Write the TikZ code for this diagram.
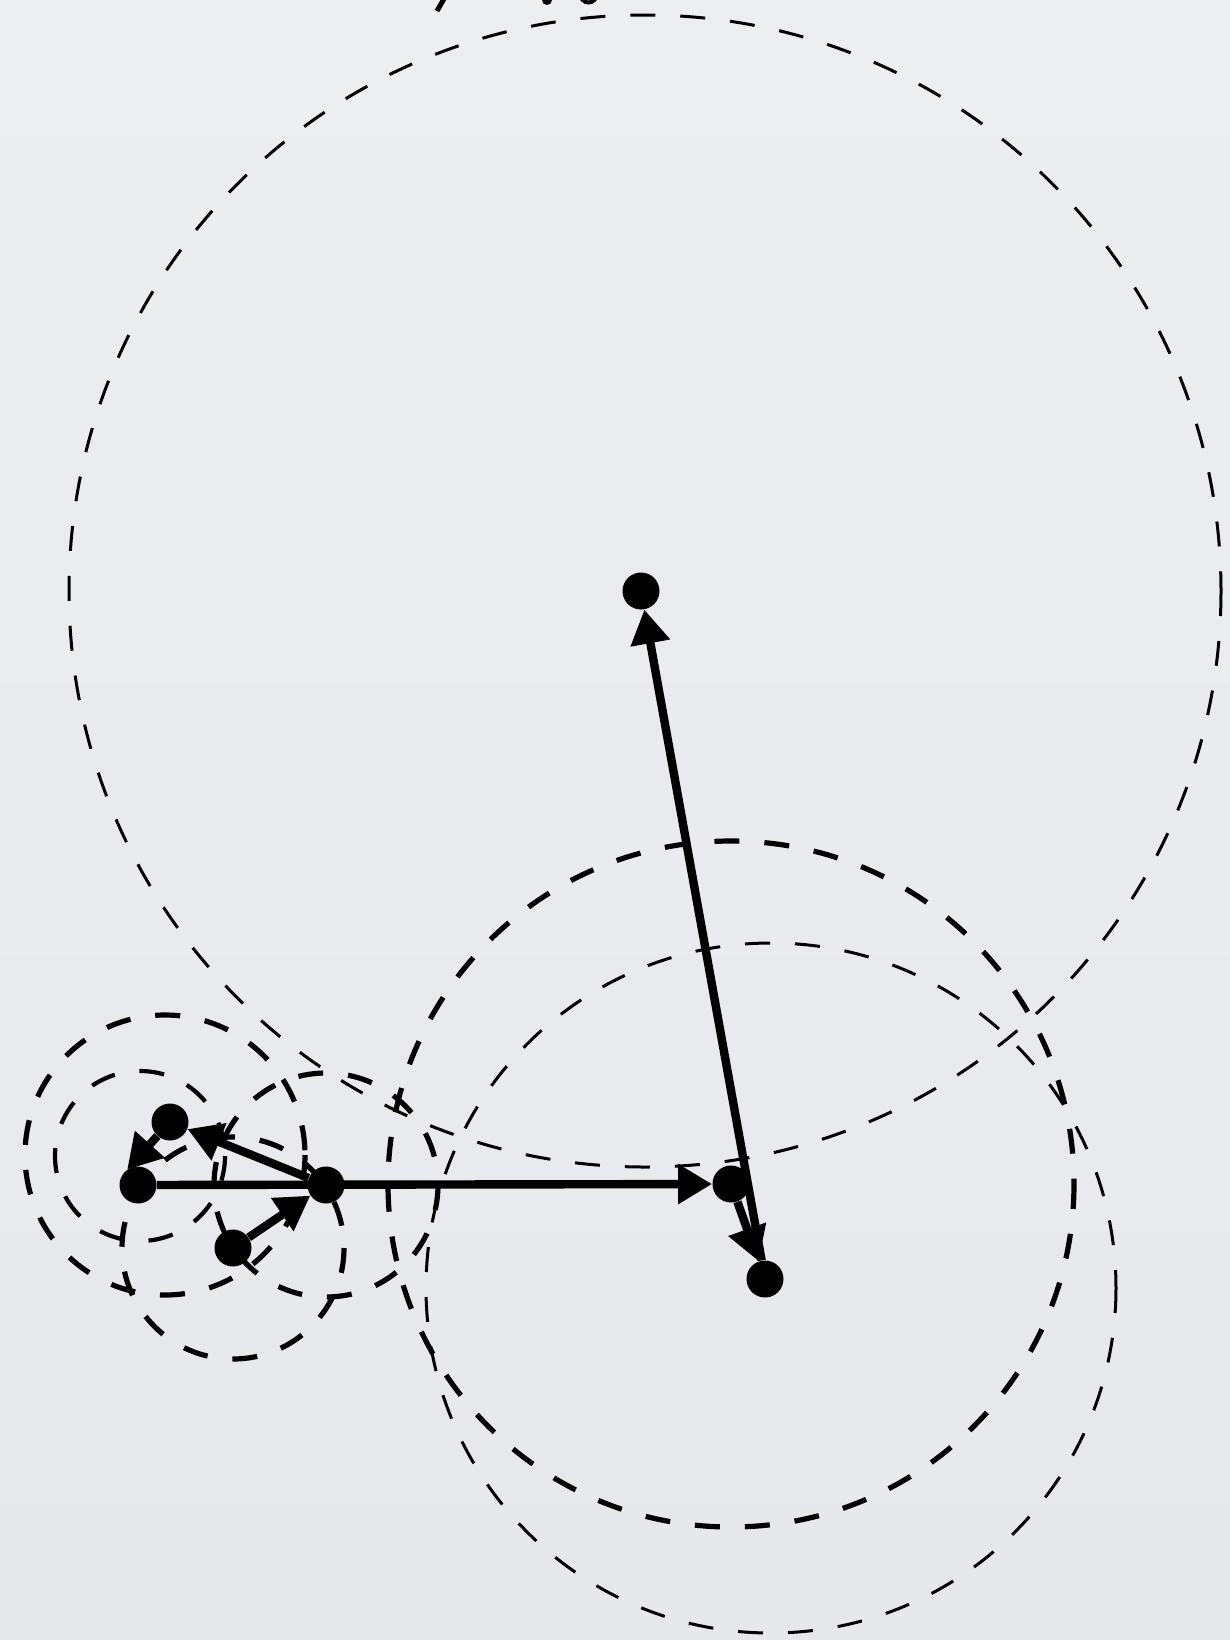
\documentclass[tikz,border=0pt]{standalone}
\usetikzlibrary{arrows.meta}
\definecolor{bgtop}{RGB}{237,238,240}
\definecolor{bgbot}{RGB}{230,232,236}
\begin{document}
\begin{tikzpicture}[x=0.5pt,y=-0.5pt,
  dot/.style={circle,fill=black,inner sep=0pt,minimum size=18.5pt},
  vec/.style={line width=4.2pt,-{Triangle[length=17pt,width=19pt]}},
  thinc/.style={dash pattern=on 12.5pt off 12.5pt,line width=1.5pt},
  midc/.style={dash pattern=on 12.5pt off 12.5pt,line width=2.1pt},
  thickc/.style={dash pattern=on 12.5pt off 12.5pt,line width=2.6pt}]
\shade[top color=bgtop,bottom color=bgbot] (0,0) rectangle (1230,1640);
\useasboundingbox (0,0) rectangle (1230,1640);
% cut-off text fragments at the top edge
\draw[line width=2.5pt] (445,-3) -- (437,11);
\fill (547,0) circle[radius=5];
\draw[line width=2pt] (579,-8) .. controls (581,6) and (596,6) .. (598,-8);
% nodes
\node[dot] (A) at (138,1185) {};
\node[dot] (B) at (170,1122) {};
\node[dot] (C) at (326,1185) {};
\node[dot] (D) at (233,1248) {};
\node[dot] (E) at (731,1184) {};
\node[dot] (F) at (765,1279) {};
\node[dot] (G) at (641,591) {};
% orbit circles
\draw[thinc] (645,591) circle[radius=576];
\draw[thickc] (E) circle[radius=343];
\draw[thinc] (771,1288) circle[radius=345];
\draw[thickc] (165,1155) circle[radius=140];
\draw[midc] (140,1156) circle[radius=85];
\draw[thickc] (C) circle[radius=112];
\draw[thickc] (D) circle[radius=111];
% vectors
\draw[vec] (A) -- (E);
\draw[vec] (C) -- (B);
\draw[vec] (B) -- (A.125);
\draw[vec] (D) -- (C);
\draw[vec] (E) -- (F);
\draw[vec] (F) -- (G);
\end{tikzpicture}
\end{document}
